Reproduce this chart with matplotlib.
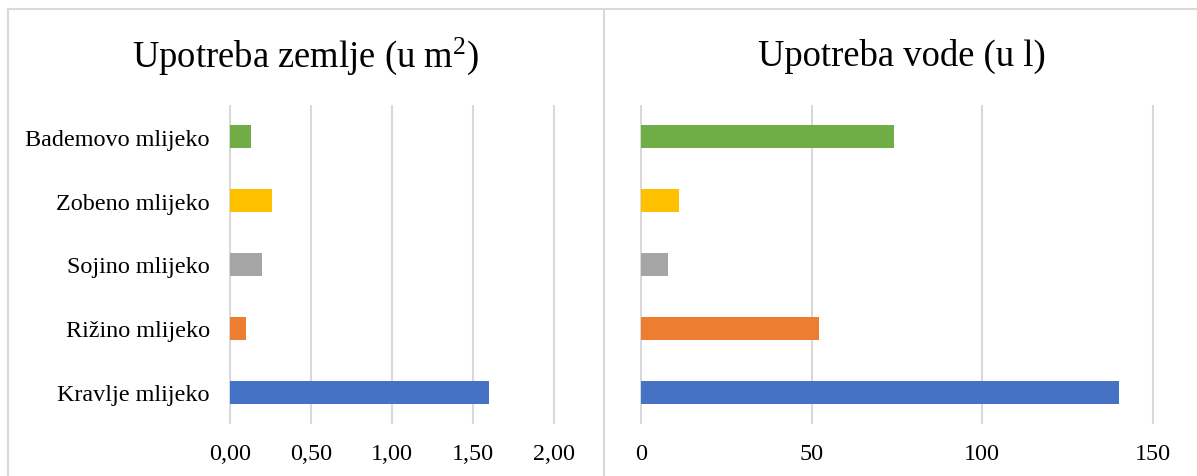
import matplotlib
matplotlib.use("Agg")
import matplotlib.pyplot as plt
from matplotlib.lines import Line2D

# Data
categories = ["Kravlje mlijeko", "Rižino mlijeko", "Sojino mlijeko",
              "Zobeno mlijeko", "Bademovo mlijeko"]
land_use = [1.60, 0.10, 0.20, 0.26, 0.13]
water_use = [140, 52, 8, 11, 74]
colors = ["#4472C4", "#ED7D31", "#A5A5A5", "#FFC000", "#70AD47"]
land_ticks = [0.0, 0.5, 1.0, 1.5, 2.0]
land_ticklabels = ["0,00", "0,50", "1,00", "1,50", "2,00"]
water_ticks = [0, 50, 100, 150]
water_ticklabels = ["0", "50", "100", "150"]

plt.rcParams["font.family"] = ["Liberation Serif", "DejaVu Serif"]
plt.rcParams["mathtext.fontset"] = "custom"
plt.rcParams["mathtext.rm"] = "Liberation Serif"
plt.rcParams["mathtext.it"] = "Liberation Serif:italic"

W, H = 1197, 477
fig = plt.figure(figsize=(W / 100, H / 100), dpi=100)
grid_color = "#D9D9D9"


def fx(px):
    return px / W


def fy(py):
    return 1 - py / H


# chart frames (two Excel-like chart boxes)
for xs, ys in [([8, 8], [10, H]), ([8, W], [10, 10]), ([604, 604], [10, H])]:
    fig.add_artist(Line2D([fx(x) for x in xs], [fy(y) for y in ys],
                          color=grid_color, lw=1.5, transform=fig.transFigure))


def style_axes(ax, ticks, ticklabels, xmax, show_labels):
    ax.set_xlim(-xmax * 0.002, xmax * 1.002)
    ax.set_ylim(-0.5, len(categories) - 0.5)
    ax.set_xticks(ticks)
    ax.set_xticklabels(ticklabels)
    ax.set_yticks(range(len(categories)))
    ax.set_yticklabels(categories if show_labels else [])
    ax.tick_params(axis="both", length=0, labelsize=17.4, pad=14)
    ax.grid(axis="x", color=grid_color, lw=1.5)
    ax.set_axisbelow(True)
    for s in ax.spines.values():
        s.set_visible(False)


y = list(range(len(categories)))
bottom, top = fy(425), fy(106)

ax1 = fig.add_axes([fx(229.3), bottom, fx(554.7 - 229.3), top - bottom])
ax1.barh(y, land_use, height=0.36, color=colors)
style_axes(ax1, land_ticks, land_ticklabels, 2.0, True)

ax2 = fig.add_axes([fx(640), bottom, fx(1154 - 640), top - bottom])
ax2.barh(y, water_use, height=0.36, color=colors)
style_axes(ax2, water_ticks, water_ticklabels, 150, False)

fig.text(fx(306), fy(56), r"Upotreba zemlje (u m$^2$)", fontsize=26.4,
         ha="center", va="center")
fig.text(fx(902), fy(56), "Upotreba vode (u l)", fontsize=26.4,
         ha="center", va="center")

fig.savefig("out.png", dpi=100)
